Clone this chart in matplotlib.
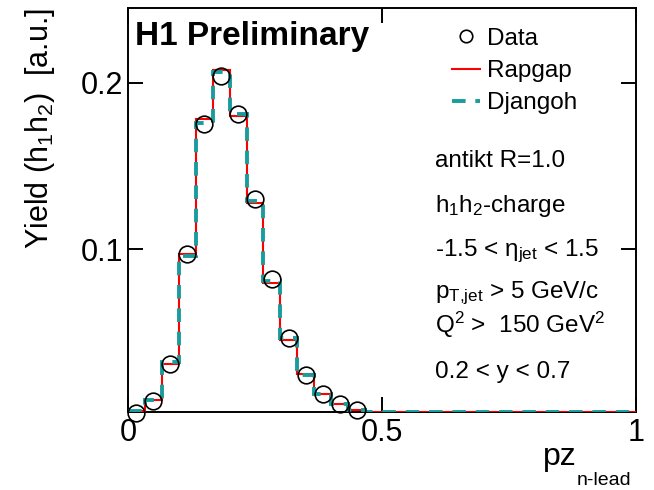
import numpy as np
import matplotlib
matplotlib.use("Agg")
import matplotlib.pyplot as plt

plt.rcParams['font.family'] = ['Liberation Sans', 'DejaVu Sans']
plt.rcParams['mathtext.fontset'] = 'custom'
plt.rcParams['mathtext.rm'] = 'Liberation Sans'
plt.rcParams['mathtext.it'] = 'Liberation Sans:italic'
plt.rcParams['mathtext.bf'] = 'Liberation Sans:bold'

# histogram binning: 30 bins over pz_n-lead in [0, 1]
bin_edges = np.linspace(0.0, 1.0, 31)

# measured yield, first 14 bins (rest empty)
data_yield = [0.0017, 0.009, 0.031, 0.097, 0.175, 0.204, 0.181, 0.130,
              0.0824, 0.0469, 0.0242, 0.0128, 0.0072, 0.0036]

rapgap = [0.003, 0.0092, 0.031, 0.097, 0.178, 0.208, 0.180, 0.128,
          0.080, 0.0457, 0.0248, 0.0132, 0.0068, 0.0036, 0.0024] + [0.0] * 15

djangoh = [0.003, 0.0095, 0.032, 0.096, 0.1756, 0.2066, 0.181, 0.129,
           0.081, 0.0465, 0.0245, 0.013, 0.007, 0.0037, 0.0024] + [0.0] * 15

cuts = ["antikt R=1.0",
        r"h$_{\mathregular{1}}$h$_{\mathregular{2}}$-charge",
        r"-1.5 < $\mathregular{\eta}_{\mathregular{jet}}$ < 1.5",
        r"p$_{\mathregular{T{,}jet}}$ > 5 GeV/c",
        r"Q$^{\mathregular{2}}$ >  150 GeV$^{\mathregular{2}}$",
        "0.2 < y < 0.7"]
cut_baselines = [167, 212, 256, 298, 333, 378]  # pixel rows

W, H = 654, 490
ymin, ymax = 0.0022, 0.245

fig = plt.figure(figsize=(W / 100, H / 100), dpi=100)
ax = fig.add_axes([128 / W, 1 - 412 / H, (636 - 128) / W, (412 - 8) / H])

centers = 0.5 * (bin_edges[:-1] + bin_edges[1:])
ndat = len(data_yield)

# empty bins sit on the frame
rap_draw = np.clip(rapgap, ymin, None)
dja_draw = np.clip(djangoh, ymin, None)

h_rap = ax.stairs(rap_draw, bin_edges, baseline=None, color='#ff0000',
                  linewidth=1.5, label='Rapgap', zorder=3)
h_dja = ax.stairs(dja_draw, bin_edges, baseline=None, color='#1a9c9c',
                  linewidth=2.8, linestyle=(0, (3.5, 2.5)), label='Djangoh',
                  zorder=4)
h_dat, = ax.plot(centers[:ndat], data_yield, 'o', mfc='none', mec='black',
                 mew=1.2, ms=12, linestyle='none', label='Data',
                 clip_on=False, zorder=5)

ax.set_xlim(0, 1)
ax.set_ylim(ymin, ymax)
ax.set_xticks([0, 0.5, 1])
ax.set_xticklabels(['0', '0.5', '1'])
ax.set_yticks([0.1, 0.2])
ax.set_yticklabels(['0.1', '0.2'])
ax.tick_params(direction='in', length=10.5, width=1.4, top=True, right=True,
               labelsize=22)
ax.tick_params(axis='x', pad=4)
ax.tick_params(axis='y', pad=3.5)
for sp in ax.spines.values():
    sp.set_linewidth(1.4)

leg = ax.legend(handles=[h_dat, h_rap, h_dja], loc='upper left',
                bbox_to_anchor=((432 - 128) / 508, 1.0), frameon=False,
                fontsize=17.5, handlelength=1.15, handletextpad=0.3,
                labelspacing=0.42, borderaxespad=0.42)
leg.legend_handles[0].set_markersize(9)

fig.text(135 / W, 1 - 45 / H, "H1 Preliminary", fontsize=24,
         fontweight='bold', va='baseline', ha='left')

for txt, yb in zip(cuts, cut_baselines):
    fig.text(435 / W, 1 - yb / H, txt, fontsize=17.5, va='baseline',
             ha='left')

# axis titles
fig.text(40 / W, 1 - 128 / H,
         r"Yield (h$_{\mathregular{1}}$h$_{\mathregular{2}}$)  [a.u.]",
         rotation=90, fontsize=22, ha='center', va='center')
fig.text(543 / W, 1 - 465 / H, "pz", fontsize=23, va='baseline', ha='left')
fig.text(577 / W, 1 - 485 / H, "n-lead", fontsize=14, va='baseline',
         ha='left')

fig.savefig('out.png', dpi=100)
